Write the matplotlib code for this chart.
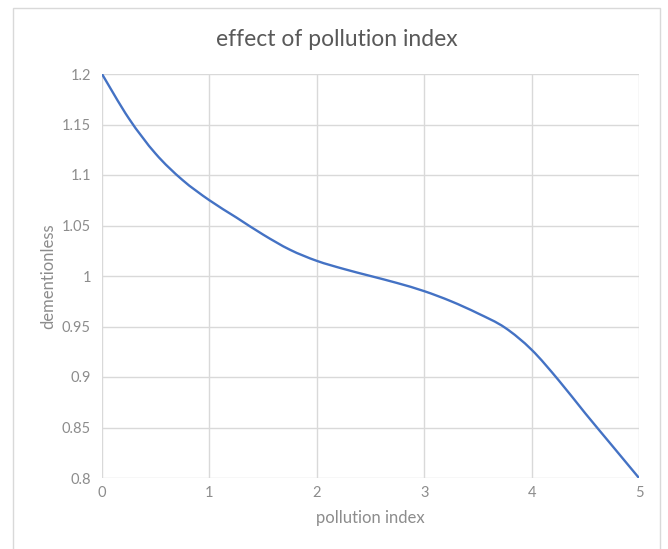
import matplotlib
matplotlib.use("Agg")
import matplotlib.pyplot as plt
from matplotlib.patches import Rectangle, PathPatch
from matplotlib.path import Path

# pollution index vs. dimensionless effect multiplier
pollution_index = [0, 0.25, 0.5, 0.75, 1, 1.25, 1.5, 1.75, 2, 2.25, 2.5,
                   2.75, 3, 3.25, 3.5, 3.75, 4, 4.25, 4.5, 4.75, 5]
effect = [1.2, 1.156, 1.121, 1.095, 1.075, 1.058, 1.041, 1.026, 1.015, 1.007,
          1.000, 0.993, 0.985, 0.975, 0.963, 0.949, 0.927, 0.897, 0.864,
          0.832, 0.8]

x_ticks = [0, 1, 2, 3, 4, 5]
y_ticks = [0.8, 0.85, 0.9, 0.95, 1.0, 1.05, 1.1, 1.15, 1.2]
y_tick_labels = ["0.8", "0.85", "0.9", "0.95", "1", "1.05", "1.1", "1.15", "1.2"]

plt.rcParams["font.family"] = ["Lato", "DejaVu Sans"]


def smooth_path(xs, ys):
    """Cubic Bezier path through the points (Catmull-Rom style tangents)."""
    verts = [(xs[0], ys[0])]
    codes = [Path.MOVETO]
    n = len(xs)
    for i in range(n - 1):
        x0, y0 = (xs[i - 1], ys[i - 1]) if i > 0 else (xs[i], ys[i])
        x1, y1 = xs[i], ys[i]
        x2, y2 = xs[i + 1], ys[i + 1]
        x3, y3 = (xs[i + 2], ys[i + 2]) if i + 2 < n else (x2, y2)
        c1 = (x1 + (x2 - x0) / 6, y1 + (y2 - y0) / 6)
        c2 = (x2 - (x3 - x1) / 6, y2 - (y3 - y1) / 6)
        verts += [c1, c2, (x2, y2)]
        codes += [Path.CURVE4] * 3
    return Path(verts, codes)


fig = plt.figure(figsize=(6.68, 5.49), dpi=100)
fig.patch.set_facecolor("white")

# chart frame
fig.add_artist(Rectangle((13 / 668, -0.05), (660 - 13) / 668, 1 - 8 / 549 + 0.05,
                         transform=fig.transFigure, fill=False,
                         edgecolor="#d9d9d9", linewidth=1.0))

ax = fig.add_axes([102 / 668, 1 - 478 / 549, (639 - 102) / 668, (478 - 74) / 549])
ax.add_patch(PathPatch(smooth_path(pollution_index, effect), fill=False,
                       edgecolor="#4472C4", linewidth=1.7, capstyle="round",
                       joinstyle="round", zorder=3))

ax.set_xlim(0, 5)
ax.set_ylim(0.8, 1.2)
ax.set_xticks(x_ticks)
ax.set_yticks(y_ticks)
ax.set_yticklabels(y_tick_labels)
ax.grid(True, color="#d9d9d9", linewidth=1.0)
ax.set_axisbelow(True)
for s in ax.spines.values():
    s.set_visible(False)
ax.tick_params(length=0, colors="#8c8c8c", labelsize=10.5, pad=8)
ax.tick_params(axis="x", pad=6)

ax.set_xlabel("pollution index", color="#8c8c8c", fontsize=12, labelpad=7)
ax.set_ylabel("dementionless", color="#8c8c8c", fontsize=12, labelpad=4)
fig.text((13 + 660) / 2 / 668, 1 - 40 / 549, "effect of pollution index",
         ha="center", va="center", color="#595959", fontsize=16.5)

fig.savefig("out.png", dpi=100, facecolor="white")
